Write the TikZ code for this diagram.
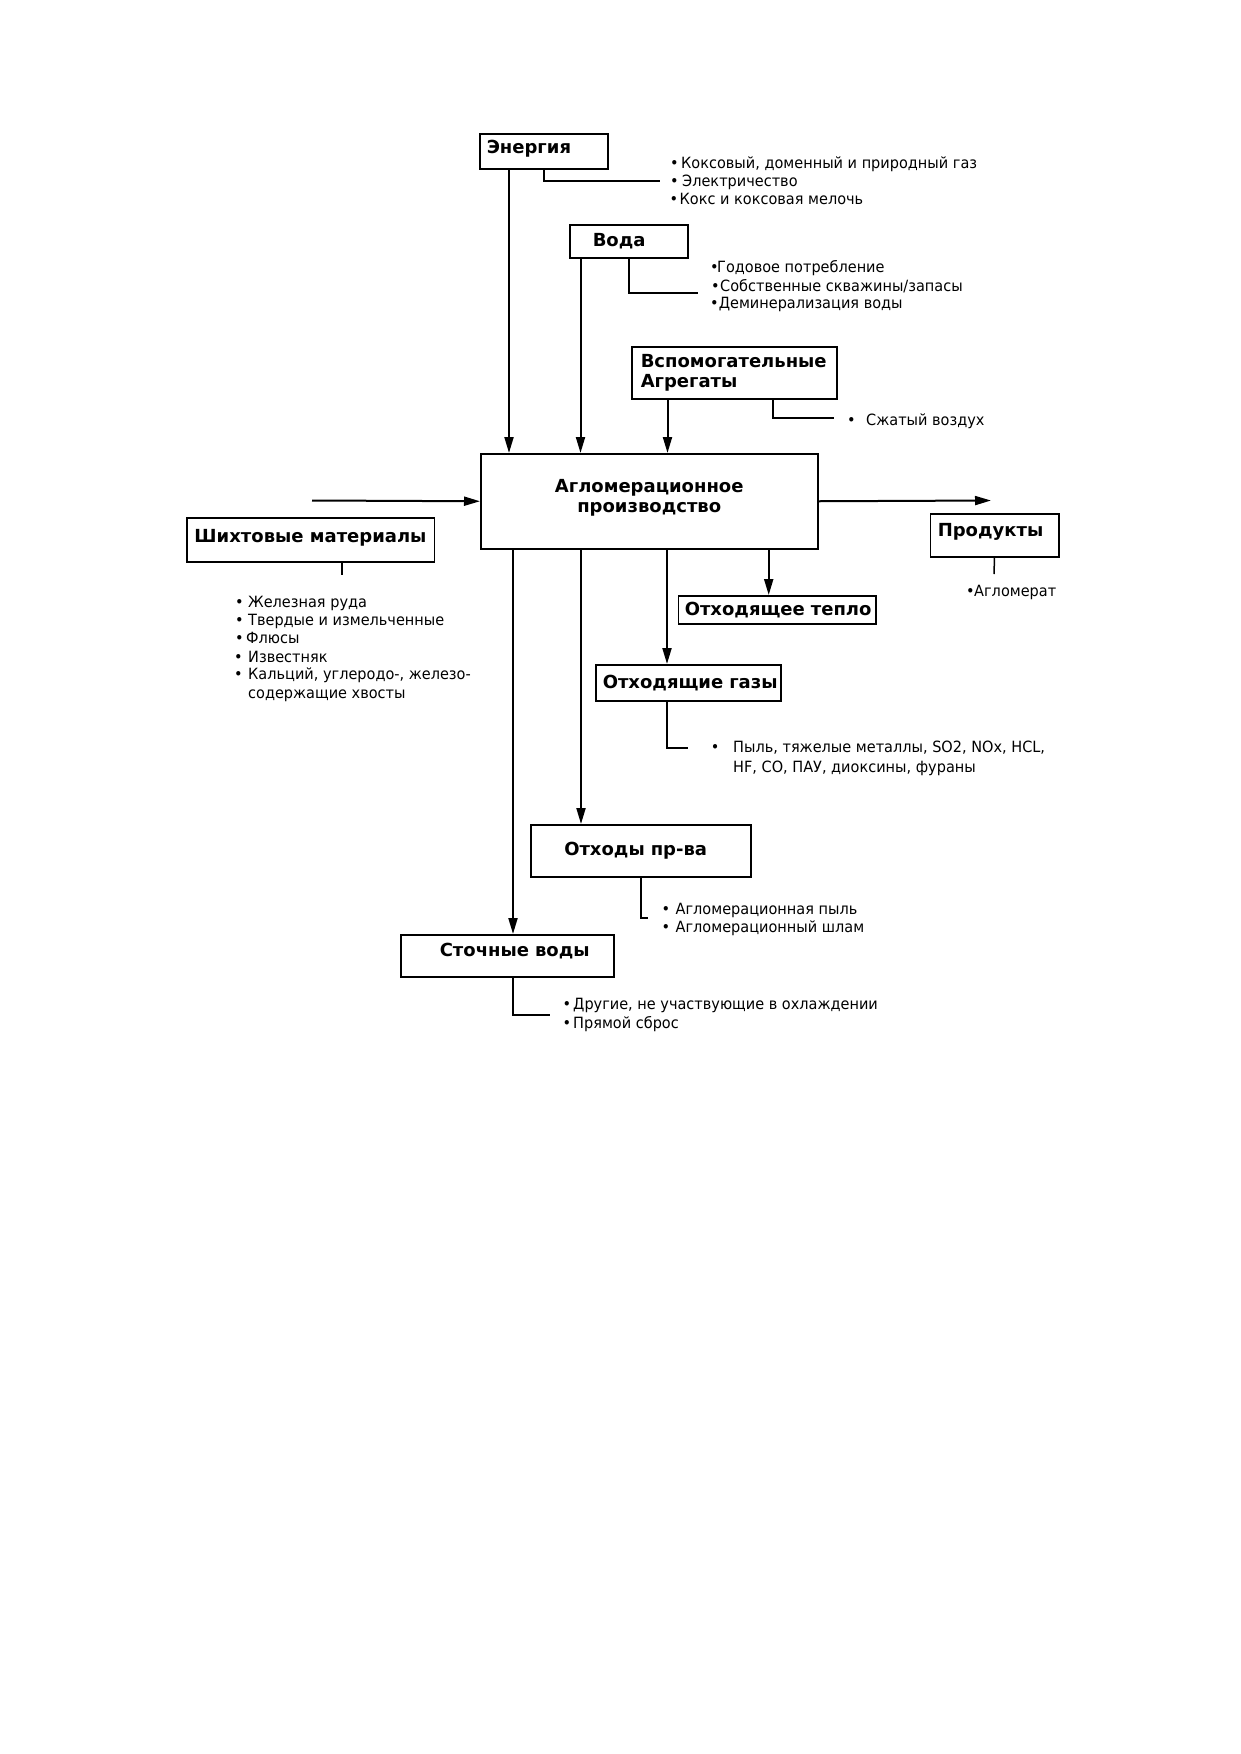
\documentclass[tikz,border=0pt]{standalone}
\usepackage{fontspec}
\setmainfont{DejaVu Sans}
\newfontfamily\itemfont{DejaVu Sans}[FakeStretch=0.935]
\usetikzlibrary{arrows.meta}
\hyphenpenalty=10000
\newcommand\lbul[1]{\makebox[#1pt][l]{•}}
\newcommand\dpt[1]{\rule[-#1pt]{0pt}{#1pt}}
\begin{document}
\begin{tikzpicture}[x=1pt,y=-1pt,
  box/.style={draw, line width=1.5pt, anchor=north west, inner ysep=0pt,
    font=\fontsize{18}{20}\selectfont\bfseries},
  lbox/.style={box, align=left},
  cbox/.style={box, align=center, inner xsep=0pt},
  itm/.style={anchor=base west, inner sep=0pt, font=\itemfont\fontsize{15.5}{18}\selectfont},
  arr/.style={line width=2pt, -{Triangle[length=16pt,width=9pt]}},
  con/.style={line width=2pt},
  tick/.style={line width=1.5pt}]
\useasboundingbox (0,0) rectangle (1240,1754);

% boxes
\node[lbox, inner xsep=7pt, text width=114pt, minimum height=35pt] (energy) at (479,133) {Энергия\dpt{8.6}};
\node[lbox, inner xsep=23pt, text width=72pt, minimum height=33pt] (water) at (569,224) {Вода};
\node[lbox, inner xsep=9pt, text width=187pt, minimum height=52pt] (aux) at (631,346) {\mbox{Вспомогательные}\\Агрегаты};
\node[cbox, minimum width=337pt, minimum height=95pt] (main) at (480,453) {Агломерационное\\производство\dpt{11}};
\node[cbox, minimum width=247.5pt, minimum height=44pt] (shikh) at (186,517) {Шихтовые материалы\dpt{8.6}};
\node[lbox, inner xsep=7.5pt, text width=113.5pt, minimum height=43pt] (prod) at (929.5,513) {Продукты\dpt{11}};
\node[lbox, inner xsep=6.5pt, text width=184.5pt, minimum height=28pt] (heat) at (677.5,595) {\mbox{Отходящее тепло}};
\node[lbox, inner xsep=7pt, text width=171pt, minimum height=36pt] (gases) at (595,664) {\mbox{Отходящие газы}};
\node[lbox, inner xsep=33.5pt, text width=153pt, minimum height=52pt] (waste) at (530,824) {\mbox{Отходы пр-ва}};
\node[lbox, inner xsep=39pt, text width=135pt, minimum height=42pt] (sewage) at (400,934) {\mbox{Сточные воды}\dpt{12.5}};

% arrow anchor points
\path (energy.south west) ++(30,0) coordinate (eA);
\path (water.south west) ++(11.5,0) coordinate (wA);
\path (aux.south west) ++(36.5,0) coordinate (aA);
\path (aux.south west) ++(142,0) coordinate (aC);
\path (main.south west) ++(33,0) coordinate (m1);
\path (main.south west) ++(101,0) coordinate (m2);
\path (main.south west) ++(187,0) coordinate (m3);
\path (main.south west) ++(288.7,0) coordinate (m4);
\path (shikh.south west) ++(156,0) coordinate (sC);
\coordinate (inS) at (312,500.5);
\coordinate (outE) at (991,500.5);

% input arrows
\draw[arr] (eA) -- (eA |- main.north);
\draw[arr] (wA) -- (wA |- main.north);
\draw[arr] (aA) -- (aA |- main.north);
\draw[arr] (inS) -- (main.west);
\draw[arr] (main.east) -- (outE);
% output arrows
\draw[arr] (m1) -- (m1 |- sewage.north);
\draw[arr] (m2) -- (m2 |- waste.north);
\draw[arr] (m3) -- (m3 |- gases.north);
\draw[arr] (m4) -- (m4 |- heat.north);

% connectors to lists
\coordinate (eL) at (660,181);
\coordinate (wL) at (698,293);
\coordinate (aL) at (834,418);
\coordinate (gL) at (688,748);
\coordinate (waL) at (648,918);
\coordinate (sL) at (550,1015);
\coordinate (shT) at (342,575);
\coordinate (prT) at (994,574);
\draw[con] (energy.south) |- (eL);
\draw[con] (water.south) |- (wL);
\draw[con] (aC) |- (aL);
\draw[con] (gases.south west) ++(71.6,0) |- (gL);
\draw[con] (waste.south) |- (waL);
\draw[con] (sewage.south west) ++(112.6,0) |- (sL);
\draw[tick] (sC) -- (shT);
\draw[tick] (prod.south) -- (prT);

% lists
\node[itm] (e1) at (670,168.3) {\lbul{11}Коксовый, доменный и природный газ};
\node[itm] (e2) at (670,186.6) {\lbul{12}Электричество};
\node[itm] (e3) at (669.5,204.6) {\lbul{10}Кокс и коксовая мелочь};
\node[itm] (w1) at (710,272.3) {\lbul{7}Годовое потребление};
\node[itm] (w2) at (711,291.3) {\lbul{9}Собственные скважины/запасы};
\node[itm] (w3) at (710,308.6) {\lbul{8.6}Деминерализация воды};
\node[itm] (a1) at (847,425.6) {\lbul{19}Сжатый воздух};
\node[itm] (s1) at (235,607.3) {\lbul{13}Железная руда};
\node[itm] (s2) at (235,625.6) {\lbul{13}Твердые и измельченные};
\node[itm] (s3) at (235,643.9) {\lbul{11}Флюсы};
\node[itm] (s4) at (234,662.3) {\lbul{14}Известняк};
\node[itm] (s5) at (234,679.9) {\lbul{14}Кальций, углеродо-, железо-};
\node[itm] (s6) at (248,698.9) {содержащие хвосты};
\node[itm] (p1) at (966,596.3) {\lbul{8}Агломерат};
\node[itm] (g1) at (710.6,752.3) {\lbul{22.4}Пыль, тяжелые металлы, SO2, NOx, HCL,};
\node[itm] (g2) at (733,772.3) {HF, CO, ПАУ, диоксины, фураны};
\node[itm] (wa1) at (661.5,914.9) {\lbul{14}Агломерационная пыль};
\node[itm] (wa2) at (661.5,932.9) {\lbul{14}Агломерационный шлам};
\node[itm] (sw1) at (562.4,1009.9) {\lbul{10.6}Другие, не участвующие в охлаждении};
\node[itm] (sw2) at (562.4,1028.3) {\lbul{10.6}Прямой сброс};
\end{tikzpicture}
\end{document}
